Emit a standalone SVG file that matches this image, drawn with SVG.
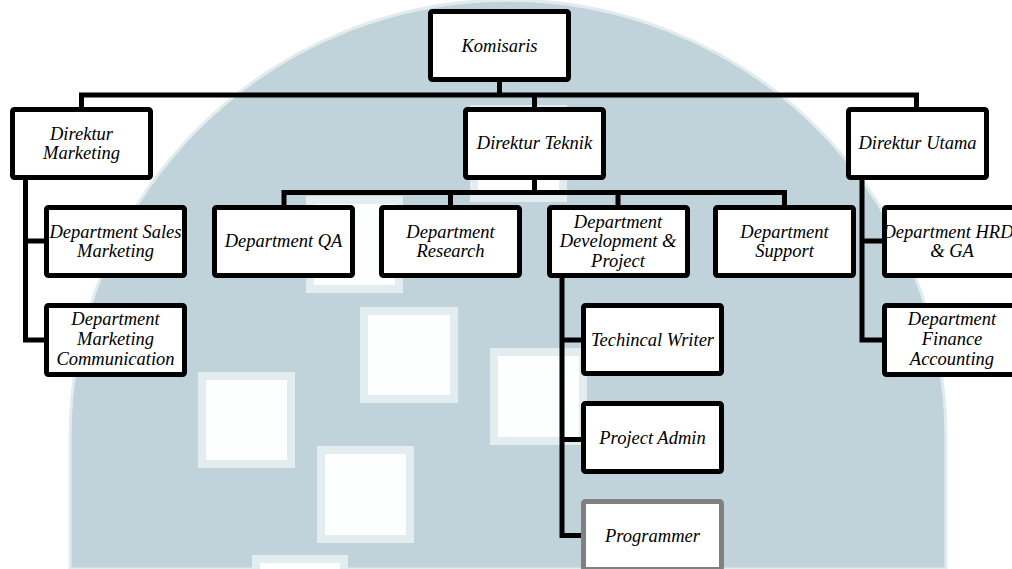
<svg xmlns="http://www.w3.org/2000/svg" width="1012" height="569" viewBox="0 0 1012 569">
<style>
.box{fill:#ffffff;stroke:#000000;stroke-width:5;}
.grey{fill:#ffffff;stroke:#808080;stroke-width:5;}
.lbl{font-family:"Liberation Serif","Times New Roman",serif;font-style:italic;font-size:18.5px;fill:#000000;text-anchor:middle;}
.con{fill:none;stroke:#000000;stroke-width:5;stroke-linejoin:miter;}
.sq{fill:#fdffff;stroke:#e3ecef;stroke-width:8;}
</style>
<g id="background">
<rect x="0" y="0" width="1012" height="569" fill="#ffffff"/>
<path d="M70,569 V438 A438,438 0 0 1 946,438 V569 Z" fill="#c1d3da" stroke="#e2ebee" stroke-width="3"/>
<rect class="sq" x="202" y="376" width="89" height="88"/>
<rect class="sq" x="364" y="311" width="90" height="88"/>
<rect class="sq" x="494" y="352" width="89" height="89"/>
<rect class="sq" x="321" y="450" width="89" height="89"/>
<rect class="sq" x="256" y="559" width="88" height="89"/>
<rect class="sq" x="310" y="200" width="89" height="89"/>
<rect class="sq" x="474" y="109" width="89" height="89"/>
</g>
<g id="connectors">
<path class="con" d="M81.5,109.5 V95 H916.5 V109.5"/>
<path class="con" d="M499.5,79.5 V95"/>
<path class="con" d="M534.5,95 V109.5"/>
<path class="con" d="M534.5,177.5 V192.5"/>
<path class="con" d="M284,207.5 V192.5 H784.5 V207.5"/>
<path class="con" d="M450.5,192.5 V207.5"/>
<path class="con" d="M618,192.5 V207.5"/>
<path class="con" d="M25.5,177.5 V340 H46.5"/>
<path class="con" d="M25.5,241 H46.5"/>
<path class="con" d="M862,177.5 V340 H884.5"/>
<path class="con" d="M862,241 H884.5"/>
<path class="con" d="M562,277.5 V535.5 H583.5"/>
<path class="con" d="M562,340 H583.5"/>
<path class="con" d="M562,439.5 H583.5"/>
</g>
<g id="komisaris">
<rect class="box" x="430.5" y="11.5" width="138" height="68" rx="2"/>
<text class="lbl" x="499.5" y="51.5">Komisaris</text>
</g>
<g id="direktur-marketing">
<rect class="box" x="12.5" y="109.5" width="138" height="68" rx="2"/>
<text class="lbl" x="81.5" y="140">Direktur</text>
<text class="lbl" x="81.5" y="158.5">Marketing</text>
</g>
<g id="direktur-teknik">
<rect class="box" x="465.5" y="109.5" width="138" height="68" rx="2"/>
<text class="lbl" x="534.5" y="149">Direktur Teknik</text>
</g>
<g id="direktur-utama">
<rect class="box" x="848.5" y="109.5" width="138" height="68" rx="2"/>
<text class="lbl" x="917.5" y="149">Direktur Utama</text>
</g>
<g id="dept-sales-marketing">
<rect class="box" x="46.5" y="207.5" width="138" height="68" rx="2"/>
<text class="lbl" x="115.5" y="238">Department Sales</text>
<text class="lbl" x="115.5" y="257">Marketing</text>
</g>
<g id="dept-marketing-communication">
<rect class="box" x="46.5" y="305.5" width="138" height="69" rx="2"/>
<text class="lbl" x="115.5" y="325">Department</text>
<text class="lbl" x="115.5" y="345">Marketing</text>
<text class="lbl" x="115.5" y="364.5">Communication</text>
</g>
<g id="dept-qa">
<rect class="box" x="214.5" y="207.5" width="138" height="68" rx="2"/>
<text class="lbl" x="283.5" y="247">Department QA</text>
</g>
<g id="dept-research">
<rect class="box" x="381.5" y="207.5" width="138" height="68" rx="2"/>
<text class="lbl" x="450.5" y="238">Department</text>
<text class="lbl" x="450.5" y="257">Research</text>
</g>
<g id="dept-development-project">
<rect class="box" x="549.5" y="207.5" width="138" height="68" rx="2"/>
<text class="lbl" x="618" y="227.5">Department</text>
<text class="lbl" x="618" y="247">Development &amp;</text>
<text class="lbl" x="618" y="266.5">Project</text>
</g>
<g id="dept-support">
<rect class="box" x="715.5" y="207.5" width="138" height="68" rx="2"/>
<text class="lbl" x="784.5" y="238">Department</text>
<text class="lbl" x="784.5" y="257">Support</text>
</g>
<g id="dept-hrd-ga">
<rect class="box" x="884.5" y="207.5" width="138" height="68" rx="2"/>
<text class="lbl" x="948" y="238">Department HRD</text>
<text class="lbl" x="952" y="257">&amp; GA</text>
</g>
<g id="dept-finance-accounting">
<rect class="box" x="884.5" y="305.5" width="138" height="69" rx="2"/>
<text class="lbl" x="952" y="325">Department</text>
<text class="lbl" x="952" y="345">Finance</text>
<text class="lbl" x="952" y="364.5">Accounting</text>
</g>
<g id="technical-writer">
<rect class="box" x="583.5" y="305.5" width="138" height="68" rx="2"/>
<text class="lbl" x="652.5" y="345.5">Techincal Writer</text>
</g>
<g id="project-admin">
<rect class="box" x="583.5" y="403.5" width="138" height="68" rx="2"/>
<text class="lbl" x="652.5" y="443.5">Project Admin</text>
</g>
<g id="programmer">
<rect class="grey" x="583.5" y="501.5" width="138" height="68" rx="2"/>
<text class="lbl" x="652.5" y="541.5">Programmer</text>
</g>
</svg>
